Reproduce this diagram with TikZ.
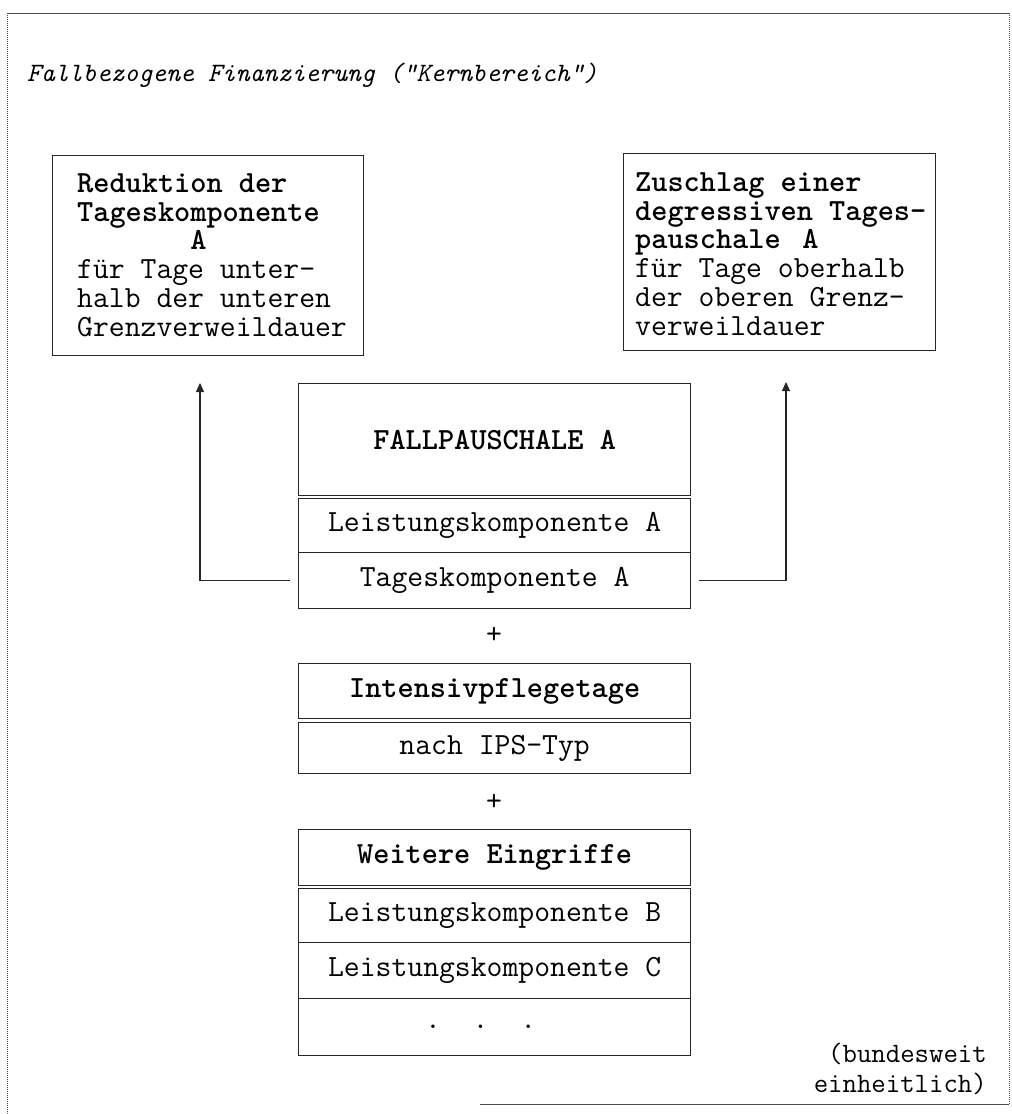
\documentclass[tikz,border=0pt]{standalone}
\usepackage{fontspec}
\setmainfont{Liberation Serif}
\usetikzlibrary{arrows.meta}
\begin{document}
\begin{tikzpicture}[x=1pt,y=-1pt,
  box/.style={draw=black!85, line width=1.3pt, rectangle, inner sep=0pt, anchor=north west},
  cell/.style={box, minimum width=392pt, font=\ttfamily\fontsize{30.8}{29}\selectfont},
  head/.style={cell, font=\ttfamily\bfseries\fontsize{30.8}{29}\selectfont},
  plain/.style={inner sep=0pt, align=left, font=\ttfamily\fontsize{30.8}{28.8}\selectfont},
  notetext/.style={inner sep=0pt, anchor=east, font=\ttfamily\fontsize{28}{28}\selectfont},
  conn/.style={draw=black!85, line width=1.1pt, -{Triangle[length=9pt,width=8pt]}},
  frame/.style={draw=black!70, line width=1pt}]
\useasboundingbox (0,0) rectangle (1012,1114);

% outer frame of the core area
\draw[frame] (7,13) -- (1009,13);
\draw[frame, densely dotted] (7,13) -- (7,1114);
\draw[frame, densely dotted] (1009,13) -- (1009,1104);
\draw[frame] (480,1104) -- (1009,1104);

\node[plain, anchor=west, font=\ttfamily\itshape\fontsize{26.5}{25}\selectfont] (title) at (27,75)
  {Fallbezogene Finanzierung ("Kernbereich")};

% upper boxes: reduction and surcharge
\node[box, minimum width=311pt, minimum height=200pt] (red) at (52,155) {};
\node[plain, anchor=west] (redtxt) at (77,255)
  {\textbf{Reduktion der}\\ \textbf{Tageskomponente}\\ \textbf{\phantom{Tagesko}A}\\
   für Tage unter-\\ halb der unteren\\ Grenzverweildauer};

\node[box, minimum width=312pt, minimum height=197pt] (zus) at (623,153) {};
\node[plain, anchor=west] (zustxt) at (635,254)
  {\textbf{Zuschlag einer}\\ \textbf{degressiven Tages-}\\ \textbf{pauschale\hspace{0.7em}A}\\
   für Tage oberhalb\\ der oberen Grenz-\\ verweildauer};

% case flat rate
\node[head, minimum height=112pt] (fp) at (298,383) {FALLPAUSCHALE A};
\node[cell, minimum height=54pt] (leistA) at (298,498) {Leistungskomponente A};
\node[cell, minimum height=56pt] (tagesA) at (298,552) {Tageskomponente A};

\node[plain] (plus1) at (494,635) {+};

% intensive care days
\node[head, minimum height=55pt] (ips) at (298,663) {Intensivpflegetage};
\node[cell, minimum height=51pt] (ipstyp) at (298,722) {nach IPS-Typ};

\node[plain] (plus2) at (494,802) {+};

% further procedures
\node[head, minimum height=56pt] (we) at (298,829) {Weitere Eingriffe};
\node[cell, minimum height=54pt] (lkB) at (298,888) {Leistungskomponente B};
\node[cell, minimum height=56pt] (lkC) at (298,942) {Leistungskomponente C};
\node[cell, minimum height=57pt] (more) at (298,998) {.~~.~~.\hspace*{28pt}};

% connectors from the day component
\coordinate (ltip) at (200,383);
\coordinate (rtip) at (786,382);
\draw[conn] ([xshift=-8pt]tagesA.west) -| (ltip);
\draw[conn] ([xshift=8pt]tagesA.east) -| (rtip);

% scope note
\node[notetext] (note1) at (987,1054) {(bundesweit};
\node[notetext] (note2) at (987,1084) {einheitlich)};
\end{tikzpicture}
\end{document}
